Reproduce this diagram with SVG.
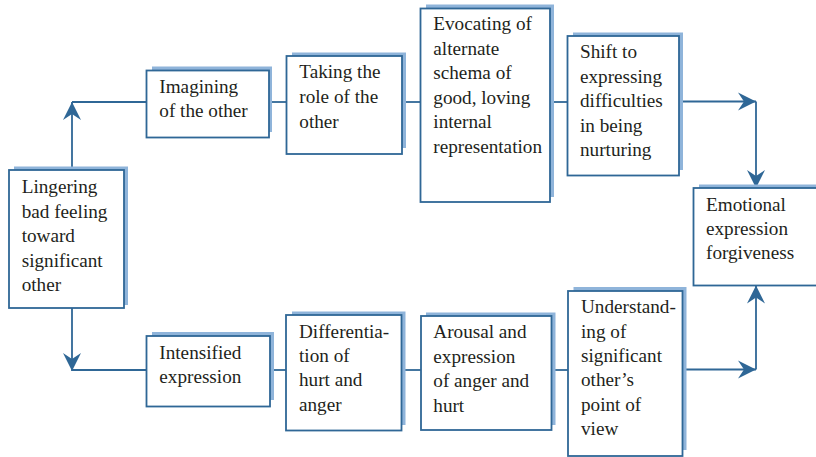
<svg xmlns="http://www.w3.org/2000/svg" width="816" height="457" viewBox="0 0 816 457">
<defs>
<style>
.shadow{fill:#8fb4da;stroke:none}
.box{fill:#ffffff;stroke:#2f6796;stroke-width:1.8}
.lbl{font-family:'Liberation Serif','Times New Roman',serif;font-size:19.2px;fill:#231f20}
.conn{fill:none;stroke:#2f6796;stroke-width:1.8}
</style>
<marker id="arr" viewBox="-19 -10 20 20" refX="0" refY="0" markerWidth="20" markerHeight="20" markerUnits="userSpaceOnUse" orient="auto">
<path d="M0,0 L-18,-9 L-12,0 L-18,9 Z" fill="#2f6796"/>
</marker>
</defs>
<rect width="816" height="457" fill="#ffffff"/>

<g id="connectors">
<line class="conn" x1="72" y1="170" x2="72" y2="102" marker-end="url(#arr)"/>
<line class="conn" x1="72" y1="102" x2="146.5" y2="102"/>
<line class="conn" x1="269" y1="102" x2="286.5" y2="102"/>
<line class="conn" x1="402" y1="102" x2="420.5" y2="102"/>
<line class="conn" x1="550" y1="102" x2="567.5" y2="102"/>
<line class="conn" x1="679" y1="101.5" x2="756" y2="101.5" marker-end="url(#arr)"/>
<line class="conn" x1="756" y1="101.5" x2="756" y2="188" marker-end="url(#arr)"/>
<line class="conn" x1="72" y1="308" x2="72" y2="371" marker-end="url(#arr)"/>
<line class="conn" x1="72" y1="370" x2="146.5" y2="370"/>
<line class="conn" x1="270" y1="370" x2="286" y2="370"/>
<line class="conn" x1="401.5" y1="370" x2="421" y2="370"/>
<line class="conn" x1="551.5" y1="370" x2="568" y2="370"/>
<line class="conn" x1="682.5" y1="369.5" x2="756" y2="369.5" marker-end="url(#arr)"/>
<line class="conn" x1="756" y1="369.5" x2="756" y2="285.5" marker-end="url(#arr)"/>
</g>

<g id="n-lingering">
<rect class="shadow" x="14" y="166.5" width="114" height="138.5"/>
<rect class="box" x="9" y="170" width="115" height="138"/>
<text class="lbl" x="21.7" y="193.3"><tspan x="21.7">Lingering</tspan><tspan x="21.7" dy="24.5">bad feeling</tspan><tspan x="21.7" dy="24.5">toward</tspan><tspan x="21.7" dy="24.5">significant</tspan><tspan x="21.7" dy="24.5">other</tspan></text>
</g>

<g id="n-imagining">
<rect class="shadow" x="152" y="66.5" width="120" height="65.5"/>
<rect class="box" x="146.5" y="70.5" width="122.5" height="67"/>
<text class="lbl" x="159.3" y="93.3"><tspan x="159.3">Imagining</tspan><tspan x="159.3" dy="24">of the other</tspan></text>
</g>

<g id="n-taking">
<rect class="shadow" x="292" y="52.5" width="114" height="95.5"/>
<rect class="box" x="286.5" y="56" width="115.5" height="98"/>
<text class="lbl" x="299.3" y="78.3"><tspan x="299.3">Taking the</tspan><tspan x="299.3" dy="24.6">role of the</tspan><tspan x="299.3" dy="24.6">other</tspan></text>
</g>

<g id="n-evocating">
<rect class="shadow" x="426" y="4.5" width="128" height="192.5"/>
<rect class="box" x="420.5" y="8.5" width="129.5" height="193.5"/>
<text class="lbl" x="433.3" y="30"><tspan x="433.3">Evocating of</tspan><tspan x="433.3" dy="24.5">alternate</tspan><tspan x="433.3" dy="24.5">schema of</tspan><tspan x="433.3" dy="24.5">good, loving</tspan><tspan x="433.3" dy="24.5">internal</tspan><tspan x="433.3" dy="24.5">representation</tspan></text>
</g>

<g id="n-shift">
<rect class="shadow" x="573" y="32.5" width="110" height="137.5"/>
<rect class="box" x="567.5" y="36" width="111.5" height="139.5"/>
<text class="lbl" x="580" y="58.3"><tspan x="580">Shift to</tspan><tspan x="580" dy="24.4">expressing</tspan><tspan x="580" dy="24.4">difficulties</tspan><tspan x="580" dy="24.4">in being</tspan><tspan x="580" dy="24.4">nurturing</tspan></text>
</g>

<g id="n-emotional">
<rect class="shadow" x="699" y="184.5" width="130" height="96"/>
<rect class="box" x="693.5" y="188" width="130" height="97.5"/>
<text class="lbl" x="706" y="210.7"><tspan x="706">Emotional</tspan><tspan x="706" dy="24.3">expression</tspan><tspan x="706" dy="24.3">forgiveness</tspan></text>
</g>

<g id="n-intensified">
<rect class="shadow" x="152" y="332" width="122" height="68"/>
<rect class="box" x="146.5" y="336" width="123.5" height="70.5"/>
<text class="lbl" x="159.3" y="359"><tspan x="159.3">Intensified</tspan><tspan x="159.3" dy="24.3">expression</tspan></text>
</g>

<g id="n-differentiation">
<rect class="shadow" x="292" y="311.5" width="113.5" height="113.5"/>
<rect class="box" x="286" y="315" width="115.5" height="115.5"/>
<text class="lbl" x="299" y="337.7"><tspan x="299">Differentia-</tspan><tspan x="299" dy="24.3">tion of</tspan><tspan x="299" dy="24.3">hurt and</tspan><tspan x="299" dy="24.3">anger</tspan></text>
</g>

<g id="n-arousal">
<rect class="shadow" x="426" y="312.5" width="129.5" height="112.5"/>
<rect class="box" x="421" y="316" width="130.5" height="114"/>
<text class="lbl" x="433.3" y="338.3"><tspan x="433.3">Arousal and</tspan><tspan x="433.3" dy="24.4">expression</tspan><tspan x="433.3" dy="24.4">of anger and</tspan><tspan x="433.3" dy="24.4">hurt</tspan></text>
</g>

<g id="n-understanding">
<rect class="shadow" x="573.5" y="287" width="113" height="163"/>
<rect class="box" x="568" y="291" width="114.5" height="165"/>
<text class="lbl" x="581" y="313.3"><tspan x="581">Understand-</tspan><tspan x="581" dy="24.35">ing of</tspan><tspan x="581" dy="24.35">significant</tspan><tspan x="581" dy="24.35">other’s</tspan><tspan x="581" dy="24.35">point of</tspan><tspan x="581" dy="24.35">view</tspan></text>
</g>
</svg>
